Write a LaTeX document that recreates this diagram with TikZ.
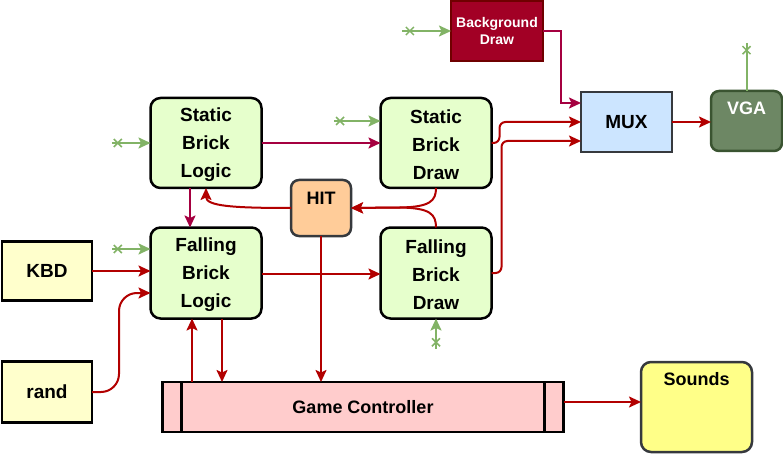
\documentclass[tikz,border=0pt]{standalone}
\usepackage{fontspec}
\setmainfont{Liberation Sans}
\usetikzlibrary{arrows.meta,shapes.misc,calc}
\definecolor{rd}{HTML}{B20000}
\definecolor{mg}{HTML}{A50040}
\definecolor{grn}{HTML}{82B366}
\definecolor{gbox}{HTML}{E6FFCC}
\definecolor{dk}{HTML}{36393D}
\definecolor{bgfill}{HTML}{A20025}
\definecolor{bgline}{HTML}{6F0000}
\definecolor{hitfill}{HTML}{FFCC99}
\definecolor{muxfill}{HTML}{CCE5FF}
\definecolor{vgafill}{HTML}{6D8764}
\definecolor{vgaline}{HTML}{3A5431}
\definecolor{yel}{HTML}{FFFFCC}
\definecolor{snd}{HTML}{FFFF88}
\definecolor{gcfill}{HTML}{FFCCCC}
\tikzset{
  base/.style={outer sep=0pt, align=center, font=\bfseries\fontsize{19}{28}\selectfont},
  blk/.style={base, draw=black, fill=gbox, line width=2.5pt, rounded corners=10pt,
    minimum width=111pt, minimum height=90pt},
  blktxt/.style={anchor=center, yshift=-2pt, outer sep=0pt, inner sep=0pt, align=center,
    font=\bfseries\fontsize{19}{28}\selectfont},
  ybox/.style={base, draw=black, fill=yel, line width=2.5pt, minimum width=90pt},
  toplbl/.style={anchor=north, outer sep=0pt, font=\bfseries\fontsize{18}{22}\selectfont},
  tip/.style={-{Stealth[length=12pt,width=11pt,inset=2.5pt]}},
  ra/.style={line width=2pt, draw=rd, tip},
  ma/.style={line width=2pt, draw=mg, tip},
  ga/.style={line width=2pt, draw=grn, tip},
  gl/.style={line width=2pt, draw=grn},
  cx/.style={cross out, draw=grn, line width=1.5pt, minimum size=8pt, inner sep=0pt, outer sep=0pt}
}
\begin{document}
\begin{tikzpicture}[x=1pt,y=-1pt]
\useasboundingbox (0,0) rectangle (783,454);
% nodes
\node[base, draw=bgline, fill=bgfill, line width=2pt, minimum width=92pt, minimum height=60pt,
  text=white, font=\bfseries\fontsize{14}{17}\selectfont] (bg) at (497,31) {Background\\Draw};
\node[blk, label={[blktxt]center:Static\\Brick\\Logic}] (sbl) at (206,143) {};
\node[blk, label={[blktxt]center:Static\\Brick\\Draw}] (sbd) at (436,143) {};
\node[blk, minimum height=91pt, label={[blktxt]center:Falling\\Brick\\Logic}] (fbl) at (206,273) {};
\node[blk, minimum height=91pt, label={[blktxt]center:Falling\\Brick\\Draw}] (fbd) at (436,273) {};
\node[base, draw=dk, fill=hitfill, line width=2.5pt, rounded corners=8pt,
  minimum width=60pt, minimum height=56pt,
  label={[toplbl, inner sep=12.5pt]north:HIT}] (hit) at (321,208) {};
\node[base, draw=dk, fill=muxfill, line width=2.5pt, minimum width=91pt, minimum height=60pt] (mux) at (626.5,122) {MUX};
\node[base, draw=vgaline, fill=vgafill, line width=2.5pt, rounded corners=8pt,
  minimum width=71pt, minimum height=60pt,
  label={[toplbl, text=white, inner sep=11pt]north:VGA}] (vga) at (746.5,121) {};
\node[ybox, minimum height=59pt] (kbd) at (47,271) {KBD};
\node[ybox, minimum height=61pt] (rand) at (47,392) {rand};
\node[base, draw=black, fill=gcfill, line width=2.5pt, minimum width=401pt, minimum height=50pt,
  font=\bfseries\fontsize{18}{22}\selectfont] (gc) at (363,407) {Game Controller};
\draw[line width=2.5pt] ([xshift=19pt]gc.north west) -- ([xshift=19pt]gc.south west);
\draw[line width=2.5pt] ([xshift=-19pt]gc.north east) -- ([xshift=-19pt]gc.south east);
\node[base, draw=dk, fill=snd, line width=2.5pt, rounded corners=10pt,
  minimum width=111pt, minimum height=90pt,
  label={[toplbl, inner sep=10.5pt]north:Sounds}] (snd) at (696.5,407) {};
% red / magenta connectors
\draw[ma] (bg.east) -| (561,103) -- ([yshift=19pt]mux.west);
\draw[ma] (sbl.east) -- (sbd.west);
\draw[ma] ([xshift=-16pt]sbl.south) -- ([xshift=-16pt]fbl.north);
\draw[ra, rounded corners=6pt] (sbd.east) -- ++(8,0) |- (mux.west);
\draw[ra, rounded corners=6pt] (fbd.east) -- ++(10,0) |- ([yshift=-19pt]mux.west);
\draw[ra] (mux.east) -- (mux.east -| vga.west);
\draw[ra] (hit.west) .. controls (232,208) and (206,206) .. (sbl.south);
\draw[ra] (sbd.south) .. controls (436,201) and (430,207) .. (400,207.5) -- (hit.east);
\draw[ra] (fbd.north) .. controls (436,214) and (430,208) .. (400,207.5) -- (hit.east);
\draw[ra] (hit.south) -- (hit.south |- gc.north);
\draw[ra] (kbd.east) -- (kbd.east -| fbl.west);
\draw[ra, rounded corners=18pt] (rand.east) -| (119,293) -- ([yshift=-20pt]fbl.west);
\draw[ra] ([yshift=-1pt]fbl.east) -- ([yshift=-1pt]fbd.west);
\draw[ra] ([xshift=-171pt]gc.north) -- ([xshift=-14pt]fbl.south);
\draw[ra] ([xshift=16pt]fbl.south) -- ([xshift=-141pt]gc.north);
\draw[ra] ([yshift=5pt]gc.east) -- ([yshift=5pt]gc.east -| snd.west);
% green inputs
\coordinate (g1) at (402,31);
\coordinate (g2) at (112,143);
\coordinate (g3) at (334,121);
\coordinate (g4) at (112,249);
\coordinate (g5) at (436,349);
\coordinate (g6) at (746.5,43);
\draw[ga] (g1) -- node[cx, pos=0.16]{} (bg.west);
\draw[ga] (g2) -- node[cx, pos=0.15]{} (sbl.west);
\draw[ga] (g3) -- node[cx, pos=0.13]{} ([yshift=22pt]sbd.west);
\draw[ga] (g4) -- node[cx, pos=0.15]{} ([yshift=24pt]fbl.west);
\draw[ga] (g5) -- node[cx, pos=0.22]{} (fbd.south);
\draw[gl] (g6) -- node[cx, pos=0.15]{} (vga.north);
\end{tikzpicture}
\end{document}
